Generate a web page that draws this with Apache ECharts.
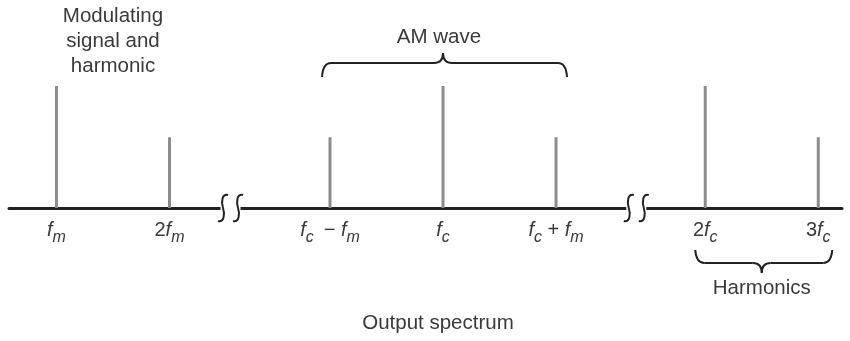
<!DOCTYPE html>
<html>
<head>
<meta charset="utf-8">
<script src="https://cdn.jsdelivr.net/npm/echarts@6/dist/echarts.min.js"></script>
<style>
  html, body { margin: 0; padding: 0; background: #fff; }
  #chart { width: 850px; height: 341px; }
</style>
</head>
<body>
<div id="chart"></div>
<script>
// Schematic spectrum positions (axis units) and relative line heights
const lineNames = ['fm', '2fm', 'fc-fm', 'fc', 'fc+fm', '2fc', '3fc'];
const linePositions = [0, 1, 2.42, 3.42, 4.42, 5.74, 6.74];
const lineHeights = [1, 0.58, 0.58, 1, 0.58, 1, 0.58];
// Tick labels (f with italic subscripts)
const tickLabels = [
  '{f|f}{s|m}',
  '{n|2}{f|f}{s|m}',
  '{f|f}{s|c}{n|\u2002− }{f|f}{s|m}',
  '{f|f}{s|c}',
  '{f|f}{s|c}{n| + }{f|f}{s|m}',
  '{n|2}{f|f}{s|c}',
  '{n|3}{f|f}{s|c}'
];
// Where the frequency axis is broken
const axisBreaks = [1.54, 5.13];

const FONT = '"Liberation Sans", Arial, sans-serif';
const TEXT = '#3a3a3a';
const INK = '#222';
const TITLE_FONT = `20.5px ${FONT}`;

const chart = echarts.init(document.getElementById('chart'), null, { renderer: 'canvas' });

const labelMap = {};
linePositions.forEach((p, i) => { labelMap[p] = tickLabels[i]; });

chart.setOption({
  animation: false,
  backgroundColor: '#fff',
  grid: { left: 9, right: 8, top: 86, bottom: 133 },
  xAxis: {
    type: 'value',
    min: -0.42,
    max: 6.95,
    splitLine: { show: false },
    axisTick: { show: false },
    axisLine: { show: true, lineStyle: { color: INK, width: 3 } },
    axisLabel: {
      customValues: linePositions,
      margin: 12,
      formatter: v => labelMap[v] || '',
      color: TEXT,
      fontFamily: FONT,
      rich: {
        f: { fontSize: 20, fontStyle: 'italic', fontFamily: FONT, color: TEXT, lineHeight: 20 },
        s: { fontSize: 16, fontStyle: 'italic', fontFamily: FONT, color: TEXT, lineHeight: 16, padding: [15, 0, 0, 0] },
        n: { fontSize: 20, fontFamily: FONT, color: TEXT, lineHeight: 20 }
      }
    }
  },
  yAxis: {
    type: 'value', min: 0, max: 1, show: false
  },
  series: [{
    type: 'bar',
    barWidth: 3,
    itemStyle: { color: '#8c8c8c' },
    data: linePositions.map((p, i) => [p, lineHeights[i]])
  }]
});

const stroke = { stroke: INK, lineWidth: 2, fill: null };
const curve = (x1, y1, cx1, cy1, cx2, cy2, x2, y2) => ({
  type: 'bezierCurve', z: 101,
  shape: { x1, y1, cpx1: cx1, cpy1: cy1, cpx2: cx2, cpy2: cy2, x2, y2 },
  style: stroke
});
const quad = (x1, y1, cx, cy, x2, y2) => ({
  type: 'bezierCurve', z: 101,
  shape: { x1, y1, cpx1: cx, cpy1: cy, x2, y2 },
  style: stroke
});
const seg = (x1, y1, x2, y2) => ({ type: 'line', z: 101, shape: { x1, y1, x2, y2 }, style: stroke });

function drawAnnotations() {
  const px = v => chart.convertToPixel({ xAxisIndex: 0 }, v);
  const y0 = chart.convertToPixel({ yAxisIndex: 0 }, 0);
  const g = [];

  // Break marks: gap in the axis and a pair of S strokes
  axisBreaks.forEach(b => {
    const cx = px(b);
    g.push({ type: 'rect', z: 100, shape: { x: cx - 10, y: y0 - 4, width: 20, height: 8 }, style: { fill: '#fff' } });
    [-7.5, 7.5].forEach(dx => {
      const x = cx + dx, y = y0;
      g.push(curve(x + 5, y - 13, x - 1, y - 15, x - 2, y - 6, x, y));
      g.push(curve(x, y, x + 2, y + 6, x + 1, y + 15, x - 5, y + 13));
    });
  });

  // Horizontal curly brace: ends at yEnd, long edge at yMid, tip at yTip
  function brace(x1, x2, xm, yEnd, yMid, yTip) {
    const r = 9;
    g.push(quad(x1, yEnd, x1 + 1, yMid, x1 + r, yMid));
    g.push(seg(x1 + r, yMid, xm - r, yMid));
    g.push(quad(xm - r, yMid, xm, yMid, xm, yTip));
    g.push(quad(xm, yTip, xm, yMid, xm + r, yMid));
    g.push(seg(xm + r, yMid, x2 - r, yMid));
    g.push(quad(x2 - r, yMid, x2 - 1, yMid, x2, yEnd));
  }

  const am1 = px(linePositions[2]) - 8, am2 = px(linePositions[4]) + 11, amM = px(linePositions[3]);
  brace(am1, am2, amM, 77, 63, 53);
  g.push({ type: 'text', z: 100, style: { text: 'AM wave', x: amM - 4, y: 37, align: 'center', verticalAlign: 'middle', font: TITLE_FONT, fill: TEXT } });

  const h1 = px(linePositions[5]) - 10, h2 = px(linePositions[6]) + 14, hM = (h1 + h2) / 2 - 2;
  brace(h1, h2, hM, 250, 263, 273);
  g.push({ type: 'text', z: 100, style: { text: 'Harmonics', x: hM, y: 288, align: 'center', verticalAlign: 'middle', font: TITLE_FONT, fill: TEXT } });

  const mx = (px(linePositions[0]) + px(linePositions[1])) / 2;
  g.push({ type: 'text', z: 100, style: { text: 'Modulating\nsignal and\nharmonic', x: mx, y: 4, align: 'center', verticalAlign: 'top', lineHeight: 25, font: TITLE_FONT, fill: TEXT } });

  g.push({ type: 'text', z: 100, style: { text: 'Output spectrum', x: 438, y: 323, align: 'center', verticalAlign: 'middle', font: TITLE_FONT, fill: TEXT } });

  chart.setOption({ graphic: { elements: g } });
}
drawAnnotations();
</script>
</body>
</html>
